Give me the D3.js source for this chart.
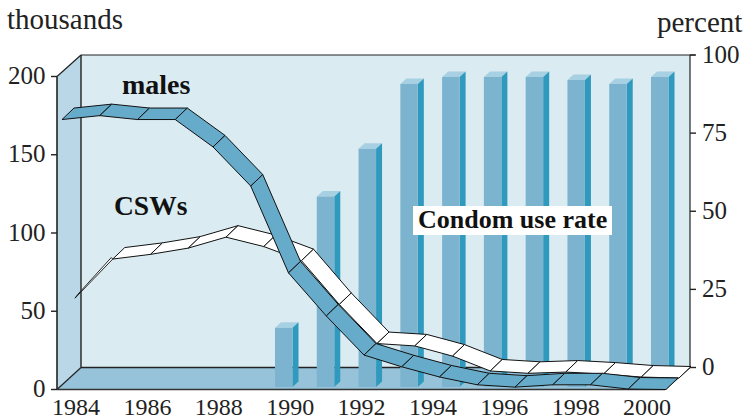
<!DOCTYPE html>
<html><head><meta charset="utf-8">
<script src="https://cdnjs.cloudflare.com/ajax/libs/d3/7.8.5/d3.min.js"></script>
<style>html,body{margin:0;padding:0;background:#fff}svg{display:block}text{font-family:"Liberation Serif",serif;fill:#222}</style>
</head><body><svg id="c" width="745" height="419"></svg>
<script>
const lineYears=[1984,1985,1986,1987,1988,1989,1990,1991,1992,1993,1994,1995,1996,1997,1998,1999,2000];
const males=[172.5,175,172.5,172.5,155,130,74.5,47,22,14.5,8,3,1.5,3,3,0.3,0];
const csws=[51,76,79,83,90,84,75,47,22,20.5,14,4.5,3,3.8,2.5,0.6,0];
const barIndex=[0,1,2,3,4,5,6,7,8,9];
const condomUse=[12.7,54.7,70,90.7,93,93,93,92,90.7,93];
const leftTicks=[0,50,100,150,200];
const rightTicks=[0,25,50,75,100];
const yearTicks=[1984,1986,1988,1990,1992,1994,1996,1998,2000];

const svg=d3.select("#c");
const yL=d3.scaleLinear().domain([0,200]).range([389.5,76.5]);
const yR=d3.scaleLinear().domain([0,100]).range([367.5,55]);
const xRib=d3.scaleLinear().domain([1984,2000]).range([62,666]);
const xLab=d3.scaleLinear().domain([1984,2000]).range([76,647]);
const xBar=d3.scaleLinear().domain([0,9]).range([275,651]);
const wall={l:81,r:690,t:55,b:367.5};
const front={l:57,r:665,b:389.5};

const poly=(pts,fill,stroke,sw)=>svg.append("polygon").attr("points",pts.map(p=>p.join(",")).join(" ")).attr("fill",fill).attr("stroke",stroke||"none").attr("stroke-width",sw||0).attr("stroke-linejoin","miter");
const line=(x1,y1,x2,y2,c,w)=>svg.append("line").attr("x1",x1).attr("y1",y1).attr("x2",x2).attr("y2",y2).attr("stroke",c).attr("stroke-width",w);

// walls
poly([[wall.l,wall.t],[wall.r,wall.t],[wall.r,wall.b],[wall.l,wall.b]],"#daebf2");
poly([[front.l,yL(200)],[wall.l,wall.t],[wall.l,wall.b],[front.l,front.b]],"#b9d7e6");
poly([[front.l,front.b],[wall.l,wall.b],[wall.r,wall.b],[front.r,front.b]],"#96c3da");
line(front.l,yL(200),wall.l,wall.t,"#222",1.2);
line(wall.l,wall.t,wall.r+5,wall.t,"#222",1.2);
line(wall.l,wall.t,wall.l,wall.b,"#222",1.4);
line(wall.l,wall.b,wall.r,wall.b,"#222",1.6);
line(front.l,front.b,wall.l,wall.b,"#222",1.2);
line(front.l,yL(200),front.l,front.b,"#222",1.6);
line(wall.r,wall.t,wall.r,wall.b,"#222",1.2);
line(front.l,front.b,front.r,front.b,"#333",1.6);
line(front.r,front.b,wall.r,wall.b,"#222",1.2);

// bars
const barW=17.5,barDx=6,barDy=5.5,barBase=yR(0)+19.5;
barIndex.forEach((b,i)=>{
  const x=xBar(b),t=yR(condomUse[i]);
  poly([[x,t],[x+barW,t],[x+barW+barDx,t-barDy],[x+barDx,t-barDy]],"#a8d0e3");
  poly([[x+barW,t],[x+barW+barDx,t-barDy],[x+barW+barDx,barBase-barDy],[x+barW,barBase]],"#2f9abd");
  poly([[x,t],[x+barW,t],[x+barW,barBase],[x,barBase]],"#7cb4d0");
});

// ribbons
const dX=12,dY=-11.5,rowX=13,rowY=-11.5;
const rib=(vals,ox,oy,fill)=>{
  const F=(i)=>[xRib(lineYears[i])+ox,yL(vals[i])+oy];
  const B=(i)=>[F(i)[0]+dX,F(i)[1]+dY];
  return {F,B,draw(i0){for(let i=i0;i<vals.length-1;i++)poly([F(i),F(i+1),B(i+1),B(i)],fill,"#111",1);}};
};
const rc=rib(csws,rowX,rowY,"#fff");
// first CSW segment is a thin sliver
{const a=rc.F(0),b=rc.F(1);
 poly([a,b,[b[0]-1.5,b[1]-1.5],[a[0]+2.5,a[1]-3.5]],"#fff","#111",0.9);}
rc.draw(1);
rib(males,0,0,"#66acca").draw(0);

// ticks and labels
leftTicks.forEach(v=>{line(front.l-6,yL(v),front.l,yL(v),"#222",1.4);
  svg.append("text").attr("x",45.5).attr("y",yL(v)+7.5).attr("text-anchor","end").attr("font-size",25).text(v);});
rightTicks.forEach(v=>{line(wall.r,yR(v),wall.r+6,yR(v),"#222",1.4);
  svg.append("text").attr("x",702).attr("y",yR(v)+7.5).attr("font-size",25).text(v);});
yearTicks.forEach(y=>svg.append("text").attr("x",xLab(y)).attr("y",415).attr("text-anchor","middle").attr("font-size",24).text(y));

svg.append("text").attr("x",7).attr("y",29).attr("font-size",29).text("thousands");
svg.append("text").attr("x",657).attr("y",32).attr("font-size",29).text("percent");

const bold=(x,y,t,fs)=>svg.append("text").attr("x",x).attr("y",y).attr("font-size",fs).attr("font-weight","bold").style("fill","#111").text(t);
bold(122,94,"males",28);
bold(114,215,"CSWs",27.5);
svg.append("rect").attr("x",413).attr("y",206).attr("width",199).attr("height",29).attr("fill","#fff");
bold(418,228,"Condom use rate",26);
</script></body></html>
